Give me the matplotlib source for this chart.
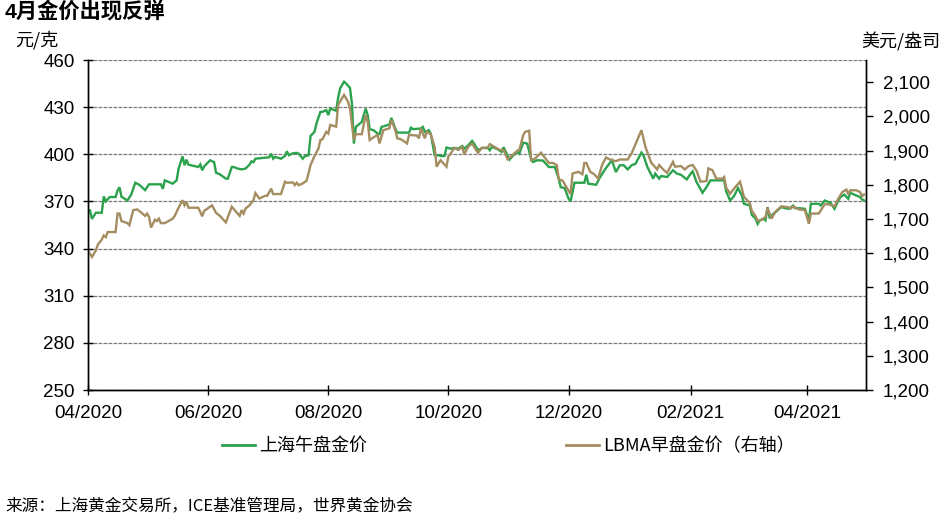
import pandas as pd
import matplotlib
matplotlib.use("Agg")
import matplotlib.pyplot as plt
import matplotlib.dates as mdates
from matplotlib.ticker import FuncFormatter
from matplotlib.lines import Line2D

plt.rcParams["font.family"] = ["Liberation Sans", "Noto Sans CJK SC", "DejaVu Sans"]

# ====== DATA ======
# 上海午盘金价, 元/克 (left axis)
sge_dates = [
    "2020-04-02", "2020-04-03", "2020-04-05", "2020-04-08", "2020-04-09", "2020-04-10", "2020-04-12",
    "2020-04-15", "2020-04-16", "2020-04-17", "2020-04-18", "2020-04-21", "2020-04-23", "2020-04-25",
    "2020-04-27", "2020-04-30", "2020-05-02", "2020-05-08", "2020-05-09", "2020-05-10", "2020-05-14",
    "2020-05-16", "2020-05-17", "2020-05-19", "2020-05-20", "2020-05-21", "2020-05-22", "2020-05-27",
    "2020-05-28", "2020-05-29", "2020-05-30", "2020-06-02", "2020-06-03", "2020-06-04", "2020-06-05",
    "2020-06-07", "2020-06-10", "2020-06-11", "2020-06-13", "2020-06-14", "2020-06-16", "2020-06-18",
    "2020-06-20", "2020-06-22", "2020-06-23", "2020-06-24", "2020-06-25", "2020-07-02", "2020-07-03",
    "2020-07-04", "2020-07-05", "2020-07-08", "2020-07-10", "2020-07-11", "2020-07-12", "2020-07-14",
    "2020-07-16", "2020-07-17", "2020-07-19", "2020-07-20", "2020-07-22", "2020-07-23", "2020-07-25",
    "2020-07-26", "2020-07-28", "2020-07-29", "2020-07-31", "2020-08-01", "2020-08-02", "2020-08-05",
    "2020-08-06", "2020-08-07", "2020-08-09", "2020-08-10", "2020-08-12", "2020-08-13", "2020-08-14",
    "2020-08-15", "2020-08-18", "2020-08-20", "2020-08-21", "2020-08-22", "2020-08-24", "2020-08-26",
    "2020-08-27", "2020-08-28", "2020-09-01", "2020-09-02", "2020-09-04", "2020-09-05", "2020-09-11",
    "2020-09-12", "2020-09-13", "2020-09-17", "2020-09-18", "2020-09-19", "2020-09-21", "2020-09-22",
    "2020-09-24", "2020-09-26", "2020-09-27", "2020-09-29", "2020-09-30", "2020-10-02", "2020-10-04",
    "2020-10-06", "2020-10-08", "2020-10-09", "2020-10-11", "2020-10-13", "2020-10-14", "2020-10-16",
    "2020-10-18", "2020-10-21", "2020-10-22", "2020-10-23", "2020-10-26", "2020-10-28", "2020-10-29",
    "2020-11-01", "2020-11-03", "2020-11-05", "2020-11-06", "2020-11-08", "2020-11-10", "2020-11-12",
    "2020-11-13", "2020-11-15", "2020-11-18", "2020-11-21", "2020-11-24", "2020-11-26", "2020-11-27",
    "2020-11-29", "2020-12-01", "2020-12-02", "2020-12-04", "2020-12-09", "2020-12-10", "2020-12-11",
    "2020-12-15", "2020-12-17", "2020-12-20", "2020-12-23", "2020-12-25", "2020-12-27", "2020-12-29",
    "2020-12-31", "2021-01-02", "2021-01-04", "2021-01-07", "2021-01-08", "2021-01-10", "2021-01-13",
    "2021-01-14", "2021-01-16", "2021-01-17", "2021-01-20", "2021-01-23", "2021-01-25", "2021-01-27",
    "2021-01-30", "2021-02-01", "2021-02-02", "2021-02-04", "2021-02-07", "2021-02-09", "2021-02-11",
    "2021-02-18", "2021-02-19", "2021-02-21", "2021-02-23", "2021-02-25", "2021-02-27", "2021-02-28",
    "2021-03-03", "2021-03-04", "2021-03-06", "2021-03-07", "2021-03-08", "2021-03-10", "2021-03-11",
    "2021-03-12", "2021-03-13", "2021-03-15", "2021-03-19", "2021-03-21", "2021-03-23", "2021-03-25",
    "2021-03-26", "2021-03-28", "2021-03-31", "2021-04-02", "2021-04-03", "2021-04-07", "2021-04-08",
    "2021-04-10", "2021-04-13", "2021-04-15", "2021-04-17", "2021-04-18", "2021-04-20", "2021-04-22",
    "2021-04-23", "2021-04-26", "2021-04-28", "2021-04-29", "2021-04-30",
]
sge_price = [
    364.3, 358.9, 362.8, 362.8, 373.2, 370.0, 372.8,
    372.8, 377.0, 379.0, 373.0, 370.6, 374.5, 381.9,
    380.6, 377.2, 380.9, 380.9, 378.0, 383.4, 381.3,
    383.4, 390.9, 398.7, 393.0, 396.6, 393.4, 391.9,
    393.6, 389.8, 392.3, 396.2, 395.5, 395.1, 388.3,
    387.2, 384.5, 384.5, 391.9, 391.9, 390.9, 390.4,
    390.9, 393.4, 395.5, 395.0, 397.2, 398.1, 400.4,
    397.2, 398.3, 397.2, 398.9, 401.9, 399.4, 400.6,
    400.9, 400.4, 397.2, 398.7, 399.4, 411.7, 414.3,
    419.6, 427.0, 427.0, 428.1, 424.9, 429.1, 427.7,
    436.0, 441.9, 446.2, 445.1, 442.3, 432.3, 406.8,
    417.4, 420.6, 429.1, 424.9, 416.0, 415.3, 413.2,
    412.8, 417.4, 418.9, 423.2, 416.4, 413.8, 413.8,
    417.0, 416.0, 416.4, 417.4, 414.3, 415.3, 413.2,
    399.4, 399.4, 398.9, 398.9, 404.3, 403.6, 404.0,
    403.6, 405.3, 403.6, 405.7, 408.5, 406.8, 402.6,
    404.0, 404.0, 402.6, 404.7, 403.2, 401.5, 404.5,
    396.6, 399.4, 401.5, 400.4, 407.4, 406.8, 396.8,
    395.1, 396.2, 396.0, 391.9, 391.9, 384.5, 379.1,
    378.5, 371.7, 370.0, 381.9, 381.9, 387.0, 381.3,
    380.6, 385.5, 391.3, 396.2, 388.7, 393.0, 393.0,
    390.4, 393.0, 394.0, 401.1, 399.4, 391.9, 384.5,
    387.7, 384.5, 386.2, 385.5, 389.8, 387.7, 387.0,
    384.0, 387.7, 389.1, 382.3, 375.5, 379.1, 383.4,
    383.4, 376.4, 370.6, 373.4, 378.5, 373.8, 368.5,
    367.4, 361.5, 358.9, 355.7, 357.9, 358.9, 357.9,
    366.4, 360.0, 362.1, 366.4, 365.7, 365.3, 367.4,
    365.7, 365.7, 365.3, 357.9, 368.5, 368.5, 367.4,
    370.6, 369.1, 365.3, 370.6, 372.8, 374.3, 371.7,
    375.5, 373.8, 372.8, 371.3, 370.6,
]

# LBMA早盘金价, 美元/盎司 (right axis)
lbma_dates = [
    "2020-04-01", "2020-04-03", "2020-04-05", "2020-04-06", "2020-04-08", "2020-04-09", "2020-04-10",
    "2020-04-11", "2020-04-15", "2020-04-16", "2020-04-17", "2020-04-18", "2020-04-21", "2020-04-22",
    "2020-04-24", "2020-04-26", "2020-04-28", "2020-04-30", "2020-05-01", "2020-05-02", "2020-05-03",
    "2020-05-05", "2020-05-06", "2020-05-07", "2020-05-08", "2020-05-10", "2020-05-14", "2020-05-15",
    "2020-05-17", "2020-05-19", "2020-05-20", "2020-05-21", "2020-05-22", "2020-05-27", "2020-05-29",
    "2020-05-30", "2020-06-03", "2020-06-05", "2020-06-07", "2020-06-10", "2020-06-13", "2020-06-14",
    "2020-06-17", "2020-06-18", "2020-06-19", "2020-06-20", "2020-06-22", "2020-06-24", "2020-06-25",
    "2020-06-27", "2020-06-30", "2020-07-01", "2020-07-03", "2020-07-04", "2020-07-08", "2020-07-10",
    "2020-07-11", "2020-07-14", "2020-07-15", "2020-07-16", "2020-07-17", "2020-07-19", "2020-07-21",
    "2020-07-23", "2020-07-25", "2020-07-27", "2020-07-28", "2020-07-29", "2020-07-31", "2020-08-01",
    "2020-08-02", "2020-08-05", "2020-08-06", "2020-08-09", "2020-08-11", "2020-08-12", "2020-08-14",
    "2020-08-15", "2020-08-18", "2020-08-20", "2020-08-21", "2020-08-22", "2020-08-24", "2020-08-26",
    "2020-08-27", "2020-08-29", "2020-09-01", "2020-09-02", "2020-09-04", "2020-09-05", "2020-09-07",
    "2020-09-10", "2020-09-11", "2020-09-15", "2020-09-16", "2020-09-17", "2020-09-19", "2020-09-20",
    "2020-09-22", "2020-09-24", "2020-09-25", "2020-09-27", "2020-09-30", "2020-10-01", "2020-10-02",
    "2020-10-04", "2020-10-06", "2020-10-08", "2020-10-09", "2020-10-11", "2020-10-13", "2020-10-15",
    "2020-10-16", "2020-10-18", "2020-10-21", "2020-10-22", "2020-10-25", "2020-10-27", "2020-10-29",
    "2020-10-31", "2020-11-02", "2020-11-05", "2020-11-06", "2020-11-08", "2020-11-09", "2020-11-11",
    "2020-11-12", "2020-11-14", "2020-11-17", "2020-11-21", "2020-11-23", "2020-11-25", "2020-11-26",
    "2020-11-28", "2020-11-30", "2020-12-02", "2020-12-03", "2020-12-06", "2020-12-08", "2020-12-09",
    "2020-12-10", "2020-12-12", "2020-12-14", "2020-12-16", "2020-12-18", "2020-12-20", "2020-12-22",
    "2020-12-25", "2020-12-27", "2020-12-31", "2021-01-02", "2021-01-07", "2021-01-09", "2021-01-12",
    "2021-01-13", "2021-01-15", "2021-01-16", "2021-01-18", "2021-01-20", "2021-01-23", "2021-01-24",
    "2021-01-27", "2021-01-29", "2021-01-31", "2021-02-02", "2021-02-04", "2021-02-06", "2021-02-09",
    "2021-02-10", "2021-02-12", "2021-02-14", "2021-02-17", "2021-02-18", "2021-02-19", "2021-02-21",
    "2021-02-23", "2021-02-26", "2021-02-27", "2021-02-28", "2021-03-03", "2021-03-04", "2021-03-06",
    "2021-03-07", "2021-03-09", "2021-03-11", "2021-03-12", "2021-03-14", "2021-03-16", "2021-03-19",
    "2021-03-22", "2021-03-24", "2021-03-25", "2021-03-28", "2021-03-31", "2021-04-02", "2021-04-03",
    "2021-04-07", "2021-04-10", "2021-04-12", "2021-04-15", "2021-04-17", "2021-04-19", "2021-04-21",
    "2021-04-22", "2021-04-23", "2021-04-26", "2021-04-28", "2021-04-29", "2021-04-30",
]
lbma_price = [
    1608, 1589, 1608, 1625, 1640, 1652, 1647,
    1662, 1662, 1716, 1716, 1694, 1688, 1682,
    1726, 1728, 1719, 1709, 1716, 1706, 1675,
    1698, 1694, 1701, 1688, 1688, 1701, 1709,
    1733, 1755, 1740, 1750, 1733, 1733, 1708,
    1724, 1740, 1718, 1709, 1690, 1736, 1729,
    1709, 1726, 1716, 1731, 1740, 1755, 1776,
    1760, 1768, 1768, 1789, 1773, 1773, 1809,
    1806, 1807, 1799, 1806, 1799, 1804, 1812,
    1858, 1884, 1906, 1931, 1933, 1955, 1950,
    1975, 1970, 2034, 2063, 2043, 2024, 1931,
    1948, 1948, 2004, 1985, 1931, 1939, 1946,
    1921, 1960, 1965, 1990, 1960, 1936, 1933,
    1921, 1946, 1944, 1936, 1965, 1936, 1955,
    1948, 1911, 1853, 1872, 1853, 1884, 1890,
    1908, 1902, 1911, 1889, 1911, 1921, 1902,
    1894, 1908, 1909, 1919, 1909, 1902, 1902,
    1875, 1884, 1900, 1902, 1946, 1955, 1958,
    1872, 1877, 1894, 1864, 1864, 1858, 1816,
    1812, 1792, 1773, 1833, 1838, 1831, 1864,
    1864, 1838, 1831, 1818, 1858, 1880, 1874,
    1869, 1874, 1874, 1892, 1960, 1911, 1864,
    1858, 1845, 1858, 1845, 1835, 1867, 1853,
    1855, 1845, 1855, 1858, 1841, 1809, 1811,
    1848, 1843, 1818, 1818, 1823, 1792, 1774,
    1789, 1809, 1789, 1765, 1747, 1724, 1708,
    1694, 1698, 1706, 1733, 1701, 1721, 1737,
    1735, 1731, 1737, 1728, 1726, 1686, 1716,
    1716, 1743, 1743, 1737, 1760, 1779, 1786,
    1772, 1784, 1784, 1779, 1767, 1772,
]

left_ticks = [250, 280, 310, 340, 370, 400, 430, 460]
right_ticks = [1200, 1300, 1400, 1500, 1600, 1700, 1800, 1900, 2000, 2100]
month_ticks = ["2020-04-01", "2020-06-01", "2020-08-01", "2020-10-01",
               "2020-12-01", "2021-02-01", "2021-04-01"]

GREEN = "#2BA24C"
TAN = "#A48D60"
CJK = ["Noto Sans CJK SC", "DejaVu Sans"]
MIXED = ["Liberation Sans", "Noto Sans CJK SC"]


def main():
    sge_x = pd.to_datetime(sge_dates)
    lbma_x = pd.to_datetime(lbma_dates)

    fig = plt.figure(figsize=(9.5, 5.22), dpi=100)
    ax = fig.add_axes([88 / 950, 1 - 390 / 522, (866 - 88) / 950, 330 / 522])
    ax2 = ax.twinx()

    ax.plot(sge_x, sge_price, color=GREEN, linewidth=1.7, solid_joinstyle="miter")
    ax2.plot(lbma_x, lbma_price, color=TAN, linewidth=1.7, solid_joinstyle="miter")

    # --- axes / scales ---
    ax.set_xlim(pd.Timestamp("2020-04-01"), pd.Timestamp("2021-05-01"))
    ax.set_ylim(250, 460)
    ax2.set_ylim(1200, 2165)

    ax.set_yticks(left_ticks)
    ax2.set_yticks(right_ticks)
    ax.set_xticks(pd.to_datetime(month_ticks))
    ax.xaxis.set_major_formatter(mdates.DateFormatter("%m/%Y"))
    ax2.yaxis.set_major_formatter(FuncFormatter(lambda v, p: f"{int(v):,}"))

    ax.grid(axis="y", color="#7a7a7a", linewidth=0.9, linestyle=(0, (3, 1)))
    ax.set_axisbelow(True)

    for a in (ax, ax2):
        a.spines["top"].set_visible(False)
        for s in ("left", "right", "bottom"):
            a.spines[s].set_linewidth(1.0)
            a.spines[s].set_color("black")

    ax.tick_params(axis="y", direction="inout", length=7, width=1, labelsize=13.5, pad=6)
    ax.tick_params(axis="x", direction="inout", length=7, width=1, labelsize=13.5, pad=7)
    ax2.tick_params(axis="y", direction="out", length=5, width=1, labelsize=13.5, pad=7)

    # --- texts ---
    fig.text(5 / 950, 1 - 12 / 522, "4月金价出现反弹", family=MIXED, fontsize=15.3,
             fontweight="bold", ha="left", va="center")
    fig.text(37 / 950, 1 - 40 / 522, "元/克", family=CJK, fontsize=13, style="italic",
             ha="center", va="center")
    fig.text(901 / 950, 1 - 42 / 522, "美元/盎司", family=CJK, fontsize=13, style="italic",
             ha="center", va="center")
    fig.text(5 / 950, 1 - 507 / 522, "来源：上海黄金交易所，ICE基准管理局，世界黄金协会",
             family=CJK, fontsize=12, ha="left", va="center")

    # --- legend ---
    handles = [
        Line2D([], [], color=GREEN, linewidth=2),
        Line2D([], [], color=TAN, linewidth=2),
    ]
    fig.legend(handles, ["上海午盘金价", "LBMA早盘金价（右轴）"], ncol=2,
               loc="center left", bbox_to_anchor=(222 / 950, 1 - 446 / 522),
               frameon=False, prop={"family": CJK, "size": 13},
               handlelength=1.85, handletextpad=0.2, columnspacing=11.0,
               borderaxespad=0, borderpad=0)

    fig.savefig("out.png", dpi=100)


if __name__ == "__main__":
    main()
